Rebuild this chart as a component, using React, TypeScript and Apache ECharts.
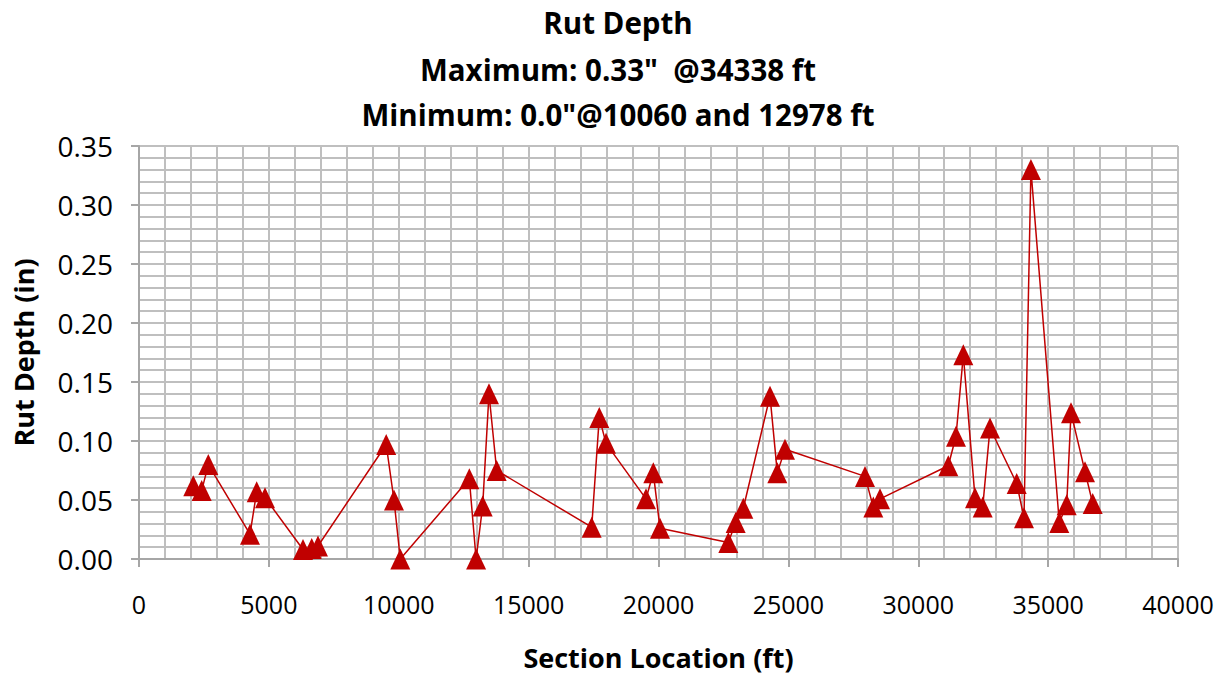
import React, { useEffect, useRef } from "react";
import * as echarts from "echarts";

const locations: number[] = [
  2090, 2414, 2668, 4273, 4531, 4851, 6314, 6649, 6891,
  9517, 9817, 10060, 12717, 12978, 13231, 13474, 13770,
  17428, 17720, 17979, 19519, 19800, 20058,
  22688, 22971, 23265, 24293, 24574, 24870,
  27950, 28270, 28528,
  31157, 31453, 31735, 32185, 32481, 32763,
  33790, 34071, 34338, 35430, 35715, 35881, 36420, 36716,
];
const rutDepth: number[] = [
  0.062, 0.058, 0.080, 0.021, 0.057, 0.052, 0.008, 0.009, 0.011,
  0.097, 0.050, 0.0, 0.068, 0.0, 0.045, 0.140, 0.075,
  0.027, 0.120, 0.098, 0.051, 0.073, 0.026,
  0.014, 0.031, 0.043, 0.138, 0.073, 0.093,
  0.070, 0.044, 0.051,
  0.079, 0.104, 0.173, 0.052, 0.044, 0.111,
  0.064, 0.035, 0.330, 0.031, 0.046, 0.124, 0.074, 0.047,
];
const titleLines: string[] = [
  "Rut Depth",
  'Maximum: 0.33"  @34338 ft',
  'Minimum: 0.0"@10060 and 12978 ft',
];
const xName = "Section Location (ft)";
const yName = "Rut Depth (in)";

const FONT = "'Open Sans', sans-serif";
const GRID = "#BFBFBF";

export default function App() {
  const ref = useRef<HTMLDivElement>(null);
  useEffect(() => {
    if (!ref.current) return;
    const chart = echarts.init(ref.current, undefined, { renderer: "svg" });
    const data = locations.map((x, i) => [x, rutDepth[i]]);
    const titleY = [22, 69, 114];
    chart.setOption({
      animation: false,
      backgroundColor: "#FFFFFF",
      graphic: titleLines.map((t, i) => ({
        type: "text",
        x: 618,
        y: titleY[i],
        style: {
          text: t,
          fontFamily: FONT,
          fontWeight: "bold",
          fontSize: 29.5,
          fill: "#000000",
          textAlign: "center",
          textVerticalAlign: "middle",
        },
      })),
      grid: { left: 139, right: 53, top: 146, bottom: 118, containLabel: false },
      xAxis: {
        type: "value",
        min: 0,
        max: 40000,
        interval: 5000,
        name: xName,
        nameLocation: "middle",
        nameGap: 85,
        nameTextStyle: { fontFamily: FONT, fontWeight: "bold", fontSize: 27, color: "#000" },
        axisLine: { show: true, lineStyle: { color: "#A6A6A6", width: 2 } },
        axisTick: { show: true, length: 8, lineStyle: { color: "#A6A6A6", width: 2 } },
        axisLabel: {
          fontFamily: FONT,
          fontSize: 25,
          color: "#000",
          margin: 32,
          formatter: (v: number) => String(v),
        },
        splitLine: { show: true, lineStyle: { color: GRID, width: 2 } },
        minorTick: { show: true, splitNumber: 5, length: 0 },
        minorSplitLine: { show: true, lineStyle: { color: GRID, width: 2 } },
      },
      yAxis: {
        type: "value",
        min: 0,
        max: 0.35,
        interval: 0.05,
        name: yName,
        nameLocation: "middle",
        nameGap: 102,
        nameTextStyle: { fontFamily: FONT, fontWeight: "bold", fontSize: 27, color: "#000" },
        axisLine: { show: true, lineStyle: { color: "#A6A6A6", width: 2 } },
        axisTick: { show: true, length: 8, lineStyle: { color: "#A6A6A6", width: 2 } },
        axisLabel: {
          fontFamily: FONT,
          fontSize: 28,
          color: "#000",
          margin: 26,
          formatter: (v: number) => v.toFixed(2),
        },
        splitLine: { show: true, lineStyle: { color: GRID, width: 2 } },
        minorTick: { show: true, splitNumber: 5, length: 0 },
        minorSplitLine: { show: true, lineStyle: { color: GRID, width: 2 } },
      },
      series: [
        {
          type: "line",
          data,
          symbol: "triangle",
          symbolSize: [20, 21],
          itemStyle: { color: "#C00000" },
          lineStyle: { color: "#C00000", width: 1.5 },
          clip: false,
          z: 5,
        },
      ],
    });
    return () => chart.dispose();
  }, []);
  return (
    <div
      ref={ref}
      style={{ position: "fixed", left: 0, top: 0, width: 1231, height: 677 }}
    />
  );
}
